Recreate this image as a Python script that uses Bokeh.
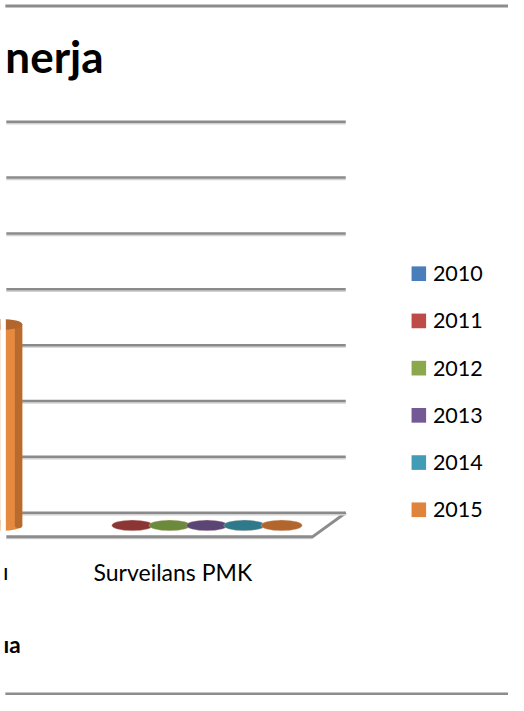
from bokeh.plotting import figure
from bokeh.models import Range1d
from bokeh.core.properties import value
from bokeh.embed import file_html
from bokeh.resources import INLINE

# ---------------- data ----------------
categories = ["", "Surveilans PMK"]
years = ["2010", "2011", "2012", "2013", "2014", "2015"]
v2010 = [None, None]
v2011 = [None, 0]
v2012 = [None, 0]
v2013 = [None, 0]
v2014 = [None, 0]
v2015 = [36, 0]
series_values = [v2010, v2011, v2012, v2013, v2014, v2015]
grid_values = [0, 10, 20, 30, 40, 50, 60, 70]
title_text = "nerja"
axis_title_text = "ıa"      # visible (cropped) end of the axis title
prev_label_tail = "ı"       # visible (cropped) end of the previous category label

# ---------------- styles ----------------
body_colors = ["#4F81BD", "#C0504D", "#9BBB59", "#8064A2", "#4BACC6", "#E68A40"]
edge_colors = ["#3A6496", "#9A3A38", "#789340", "#614A7F", "#3489A0", "#B96A2D"]
cap_colors = ["#3D679A", "#8B3535", "#6C8A3B", "#5A4575", "#2E7A8C", "#B0662C"]
legend_colors = ["#4A7EBB", "#BE4B48", "#8CA84D", "#735A95", "#439CB6", "#E0843C"]

# ---------------- layout (reference pixel space 524 x 711) ----------------
FW, FH = 508, 695
REF_W, REF_H = 524, 711
SLOT_PX = 38.5
X0_PX = -95.0            # ref px of x = 0
Y0_PX = 537.0            # ref px of value 0 (mid depth)
YPU = 57.14 / 10.0       # ref px per value unit
N_SER = len(years)
GAP = 1.5
CAT_W = N_SER + GAP
BAR_W = 1.1


def X(px):
    return (px - X0_PX) / SLOT_PX


def Y(py):
    return (Y0_PX - py) / YPU


p = figure(width=FW, height=FH, output_backend="svg", toolbar_location=None,
           x_range=Range1d(X(0), X(REF_W)), y_range=Range1d(Y(REF_H), Y(0)),
           min_border=0, min_border_left=0, min_border_right=0,
           min_border_top=0, min_border_bottom=0)
p.axis.visible = False
p.grid.visible = False
p.outline_line_color = None
p.background_fill_color = "white"
p.border_fill_color = "white"

# depth offsets of the 3D walls
DXB = 18 / SLOT_PX
DXF = -16 / SLOT_PX
DYB = 13 / YPU
DYF = -11.5 / YPU
x_right = (len(categories) - 1) * CAT_W + CAT_W / 2
x_left = X(6)

# floor
p.patch([x_left, x_right + DXB, x_right + DXF, x_left],
        [DYB, DYB, DYF, DYF], fill_color="white", line_color=None)
p.line([x_left, x_right + DXF], [DYF - 2 / YPU, DYF - 2 / YPU], line_color="#D8D8D8", line_width=1.5)
p.line([x_left, x_right + DXF, x_right + DXB], [DYF, DYF, DYB], line_color="#8C8C8C", line_width=3)

# back-wall gridlines
for g in grid_values:
    yy = g + DYB
    p.line([x_left, x_right + DXB], [yy - 2 / YPU, yy - 2 / YPU], line_color="#D2D2D2", line_width=1.5)
    p.line([x_left, x_right + DXB], [yy, yy], line_color="#8A8A8A", line_width=2.5)

# cylinders
ELL_H = 11 / YPU
for s, vals in enumerate(series_values):
    for c, v in enumerate(vals):
        if v is None:
            continue
        xc = c * CAT_W + (s - (N_SER - 1) / 2)
        if v > 0:
            p.ellipse(x=[xc], y=[0], width=BAR_W, height=ELL_H, fill_color=body_colors[s], line_color=None)
            p.vbar(x=[xc], bottom=[0], top=[v], width=BAR_W, fill_color=body_colors[s], line_color=None)
            p.vbar(x=[xc + BAR_W * 0.41], bottom=[0], top=[v], width=BAR_W * 0.18,
                   fill_color=edge_colors[s], line_color=None)
            p.ellipse(x=[xc + BAR_W * 0.41], y=[0], width=BAR_W * 0.18, height=ELL_H * 0.5,
                      fill_color=edge_colors[s], line_color=None)
            p.ellipse(x=[xc], y=[v], width=BAR_W, height=ELL_H, fill_color=cap_colors[s], line_color=None)
        else:
            p.ellipse(x=[xc], y=[v], width=BAR_W, height=ELL_H, fill_color=cap_colors[s],
                      line_color="#E7C9B8", line_width=0.6, line_alpha=0.6)

# crop edge of the chart area (left side of the reference picture)
p.quad(left=[X(0)], right=[X(5.5)], bottom=[Y(565)], top=[Y(100)], fill_color="white", line_color=None)

# category labels
for c, name in enumerate(categories):
    if name:
        p.text(x=[c * CAT_W + DXF], y=[Y(584.5)], text=[name], text_align="center",
               text_baseline="middle", text_font=value("Lato"), text_font_size="23px",
               text_color="#000000")
p.text(x=[X(2.5)], y=[Y(584)], text=[prev_label_tail], text_align="left", text_baseline="middle",
       text_font=value("Lato"), text_font_size="23px", text_color="#000000")

# title and axis title (cropped)
p.text(x=[X(5)], y=[Y(57)], text=[title_text], text_align="left", text_baseline="middle",
       text_font=value("Lato"), text_font_size="44px", text_font_style="bold", text_color="#000000")
p.text(x=[X(3)], y=[Y(658.5)], text=[axis_title_text], text_align="left", text_baseline="middle",
       text_font=value("Lato"), text_font_size="22.5px", text_font_style="bold", text_color="#000000")

# slide border lines
p.line([X(5), X(REF_W + 5)], [Y(5.5), Y(5.5)], line_color="#8C8C8C", line_width=3)
p.line([X(5), X(REF_W + 5)], [Y(709.5), Y(709.5)], line_color="#8C8C8C", line_width=3)

# legend
LEG_TOP = 279.5
LEG_PITCH = 48.3
for i, yr in enumerate(years):
    cy = LEG_TOP + i * LEG_PITCH
    p.rect(x=[X(431.5)], y=[Y(cy)], width=15 / SLOT_PX, height=15 / YPU,
           fill_color=legend_colors[i], line_color=None)
    p.text(x=[X(446)], y=[Y(cy)], text=[yr], text_align="left", text_baseline="middle",
           text_font=value("Lato"), text_font_size="21.5px", text_color="#000000")

open("out.html", "w").write(file_html(p, INLINE))
